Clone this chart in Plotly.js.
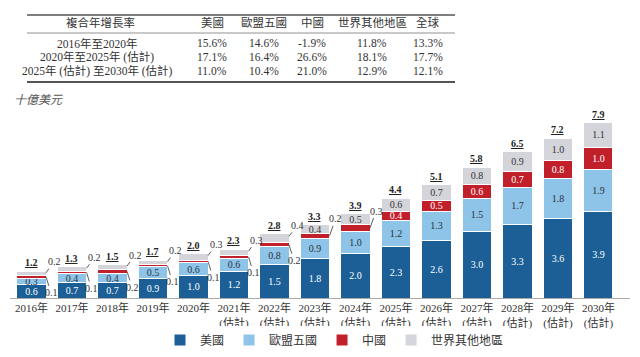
<!DOCTYPE html>
<html><head><meta charset="utf-8">
<script src="https://cdn.plot.ly/plotly-3.0.1.min.js"></script>
<style>html,body{margin:0;padding:0;background:#fff}#chart{width:640px;height:357px}</style>
</head><body><div id="chart"></div>
<script>
const categories = ['2016年','2017年','2018年','2019年','2020年',
  '2021年<br>(估計)','2022年<br>(估計)','2023年<br>(估計)','2024年<br>(估計)','2025年<br>(估計)',
  '2026年<br>(估計)','2027年<br>(估計)','2028年<br>(估計)','2029年<br>(估計)','2030年<br>(估計)'];
const usValues    = [0.6,0.7,0.7,0.9,1.0,1.2,1.5,1.8,2.0,2.3,2.6,3.0,3.3,3.6,3.9];
const euValues    = [0.3,0.4,0.4,0.5,0.6,0.6,0.8,0.9,1.0,1.2,1.3,1.5,1.7,1.8,1.9];
const chinaValues = [0.1,0.1,0.2,0.1,0.1,0.1,0.2,0.2,0.3,0.4,0.5,0.6,0.7,0.8,1.0];
const rowValues   = [0.2,0.2,0.2,0.2,0.3,0.3,0.4,0.4,0.5,0.6,0.7,0.8,0.9,1.0,1.1];
const totalValues = [1.2,1.3,1.5,1.7,2.0,2.3,2.8,3.3,3.9,4.4,5.1,5.8,6.5,7.2,7.9];
const seriesNames = ['美國','歐盟五國','中國','世界其他地區'];
const unitLabel = '十億美元';

const cagrTitle = '複合年增長率';
const cagrColumns = ['美國','歐盟五國','中國','世界其他地區','全球'];
const cagrPeriods = ['2016年至2020年','2020年至2025年 (估計)','2025年 (估計) 至2030年 (估計)'];
const cagrRow1 = ['15.6%','14.6%','-1.9%','11.8%','13.3%'];
const cagrRow2 = ['17.1%','16.4%','26.6%','18.1%','17.7%'];
const cagrRow3 = ['11.0%','10.4%','21.0%','12.9%','12.1%'];

// segments labelled outside (by last index)
const lastOutsideRoW = 6;
const lastOutsideChina = 8;

const FONT = 'Liberation Serif, "Noto Sans CJK TC", serif';
const W = 640, H = 357, ML = 10, MR = 10, MT = 108, MB = 59;
const PW = W - ML - MR, PH = H - MT - MB;
const px = x => (x - ML) / PW;
const py = y => (H - MB - y) / PH;

const colors = ['#1b5f96', '#8ec4e8', '#c1202b', '#d3d5da'];
const textColors = ['#ffffff', '#2a3340', '#ffffff', '#333333'];
const allVals = [usValues, euValues, chinaValues, rowValues];

const traces = allVals.map((vals, k) => ({
  type: 'bar', name: seriesNames[k], x: categories, y: vals,
  marker: {color: colors[k], line: {color: '#ffffff', width: 1}},
  text: vals.map((v, i) => {
    if (k === 2 && i <= lastOutsideChina) return '';
    if (k === 3 && i <= lastOutsideRoW) return '';
    return v.toFixed(1);
  }),
  textposition: 'inside', insidetextanchor: 'middle', textangle: 0,
  textfont: {family: FONT, size: 10, color: textColors[k]},
  hoverinfo: 'skip'
}));

const annotations = [];
// totals
totalValues.forEach((t, i) => {
  const stackTop = usValues[i] + euValues[i] + chinaValues[i] + rowValues[i];
  annotations.push({x: i, y: stackTop, xref: 'x', yref: 'y', xanchor: 'center', yanchor: 'bottom', yshift: 1,
    text: '<b><span style="text-decoration:underline">' + t.toFixed(1) + '</span></b>',
    showarrow: false, font: {family: FONT, size: 10, color: '#222'}});
});
// outside labels
for (let i = 0; i <= lastOutsideRoW; i++) {
  const top = usValues[i] + euValues[i] + chinaValues[i] + rowValues[i];
  annotations.push({x: i + 0.36, y: top - rowValues[i] * 0.3, xref: 'x', yref: 'y',
    text: rowValues[i].toFixed(1), showarrow: true, arrowhead: 0, arrowwidth: 0.8, arrowcolor: '#333',
    ax: 8, ay: -11, standoff: 0, font: {family: FONT, size: 10, color: '#333'}});
}
for (let i = 0; i <= lastOutsideChina; i++) {
  const mid = usValues[i] + euValues[i] + chinaValues[i] / 2;
  const above = i > lastOutsideRoW;
  annotations.push({x: i + 0.36, y: mid, xref: 'x', yref: 'y',
    text: chinaValues[i].toFixed(1), showarrow: true, arrowhead: 0, arrowwidth: 0.8, arrowcolor: '#333',
    ax: above ? 6 : 5, ay: above ? -17 : 16, standoff: 0, font: {family: FONT, size: 10, color: '#333'}});
}
// unit label
annotations.push({x: px(12), y: py(100), xref: 'paper', yref: 'paper', xanchor: 'left', yanchor: 'middle',
  text: '<i>' + unitLabel + '</i>', showarrow: false, font: {family: FONT, size: 12, color: '#555'}});

// table
const colX = [212, 264, 312, 372, 428];
const rowY = [43, 57, 71];
const tFont = {family: FONT, size: 11.5, color: '#333'};
const cell = (x, y, text) => ({x: px(x), y: py(y), xref: 'paper', yref: 'paper', xanchor: 'center', yanchor: 'middle',
  text: text, showarrow: false, font: tFont});
annotations.push(cell(100, 23, cagrTitle));
cagrColumns.forEach((c, j) => annotations.push(cell(colX[j], 23, c)));
cagrPeriods.forEach((p, r) => annotations.push(cell(97, rowY[r], p)));
[cagrRow1, cagrRow2, cagrRow3].forEach((row, r) => row.forEach((v, j) => annotations.push(cell(colX[j], rowY[r], v))));

const shapes = [
  {type: 'line', xref: 'paper', yref: 'paper', x0: px(27), x1: px(455), y0: py(15), y1: py(15), line: {color: '#555', width: 1.5}},
  {type: 'line', xref: 'paper', yref: 'paper', x0: px(27), x1: px(455), y0: py(33), y1: py(33), line: {color: '#777', width: 0.8}},
  {type: 'line', xref: 'paper', yref: 'paper', x0: px(27), x1: px(455), y0: py(82), y1: py(82), line: {color: '#555', width: 2}}
];

const layout = {
  width: W, height: H, margin: {l: ML, r: MR, t: MT, b: MB, autoexpand: false},
  paper_bgcolor: '#fff', plot_bgcolor: '#fff',
  barmode: 'stack', bargap: 0.28,
  showlegend: true,
  legend: {orientation: 'h', x: px(160), xanchor: 'left', y: py(340), yanchor: 'middle',
    font: {family: FONT, size: 12, color: '#333'}, itemwidth: 30, traceorder: 'normal', tracegroupgap: 0},
  xaxis: {type: 'category', range: [-0.53, 14.78], showline: true, linecolor: '#aaa', linewidth: 1,
    ticks: '', showgrid: false, zeroline: false, tickangle: 0, automargin: false,
    tickfont: {family: FONT, size: 11, color: '#333'}},
  yaxis: {range: [0, 8.56], visible: false, fixedrange: true, automargin: false},
  uniformtext: {mode: 'show', minsize: 10},
  annotations: annotations, shapes: shapes
};

Plotly.newPlot('chart', traces, layout, {staticPlot: true, displayModeBar: false});
</script></body></html>
